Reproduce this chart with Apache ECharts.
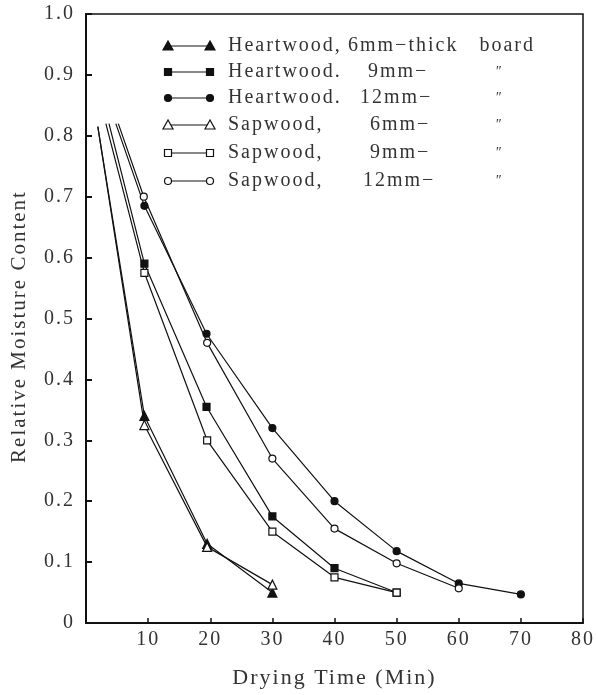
<!DOCTYPE html>
<html>
<head>
<meta charset="utf-8">
<script src="https://cdn.jsdelivr.net/npm/echarts@6/dist/echarts.min.js"></script>
<style>
html, body { margin: 0; padding: 0; background: #fff; }
#chart { width: 598px; height: 695px; }
</style>
</head>
<body>
<div id="chart"></div>
<script>
// drying time (min), relative moisture content; first point of each curve is the unmarked start
const heartwood6 = [[1.9, 0.815], [9.4, 0.34], [19.5, 0.13], [30, 0.05]];
const heartwood9 = [[3.7, 0.82], [9.4, 0.59], [19.4, 0.355], [30, 0.175], [40, 0.09], [50, 0.05]];
const heartwood12 = [[4.8, 0.82], [9.4, 0.685], [19.4, 0.475], [30, 0.32], [40, 0.2], [50, 0.118], [60, 0.065], [70, 0.047]];
const sapwood6 = [[1.9, 0.815], [9.4, 0.325], [19.5, 0.125], [30, 0.063]];
const sapwood9 = [[3.2, 0.82], [9.4, 0.575], [19.5, 0.3], [30, 0.15], [40, 0.075], [50, 0.05]];
const sapwood12 = [[5.2, 0.82], [9.3, 0.7], [19.5, 0.46], [30, 0.27], [40, 0.155], [50, 0.098], [60, 0.057]];

const seriesNames = ['Heartwood, 6mm', 'Heartwood, 9mm', 'Heartwood, 12mm', 'Sapwood, 6mm', 'Sapwood, 9mm', 'Sapwood, 12mm'];
const legendNames = ['Heartwood,', 'Heartwood.', 'Heartwood.', 'Sapwood,', 'Sapwood,', 'Sapwood,'];
const legendSizes = ['6mm\u2212thick   board', '9mm\u2212', '12mm\u2212', '6mm\u2212', '9mm\u2212', '12mm\u2212'];
const legendSizeX = [348, 368, 360, 370, 370, 363];
const xTicks = [10, 20, 30, 40, 50, 60, 70, 80];

// the scanned typeface is widely spaced: add letter spacing whenever a canvas font is set,
// so both zrender's text measuring and drawing see it
const fontProp = Object.getOwnPropertyDescriptor(CanvasRenderingContext2D.prototype, 'font');
Object.defineProperty(CanvasRenderingContext2D.prototype, 'font', {
  get() { return fontProp.get.call(this); },
  set(v) { fontProp.set.call(this, v); this.letterSpacing = '2px'; }
});

const font = "'Liberation Serif', 'DejaVu Serif', serif";
const ink = '#111';
const textInk = '#333';

const allData = [heartwood6, heartwood9, heartwood12, sapwood6, sapwood9, sapwood12];
const symbols = ['triangle', 'rect', 'circle', 'triangle', 'rect', 'circle'];
const filled = [true, true, true, false, false, false];
const symSize = { triangle: 9, rect: 7, circle: 7 };

const series = allData.map((d, i) => ({
  name: seriesNames[i],
  type: 'line',
  symbol: symbols[i],
  symbolSize: symSize[symbols[i]],
  showAllSymbol: true,
  z: filled[i] ? 2 : 3,
  lineStyle: { color: ink, width: 1.2 },
  itemStyle: { color: filled[i] ? ink : '#fff', borderColor: ink, borderWidth: 1.2 },
  emphasis: { disabled: true },
  data: d.map((p, j) => j === 0 ? { value: p, symbol: 'none' } : { value: p })
}));

// hand-drawn legend: marker, line, marker, then label pieces
const rowY = [46, 72, 98, 125, 153, 181];
const graphic = [];
rowY.forEach((y, i) => {
  const fill = filled[i] ? ink : '#fff';
  graphic.push({ type: 'line', shape: { x1: 168, y1: y, x2: 210, y2: y }, style: { stroke: ink, lineWidth: 1.2 } });
  [168, 210].forEach(cx => {
    let el;
    if (symbols[i] === 'triangle') {
      el = { type: 'polygon', shape: { points: [[cx, y - 5], [cx - 5, y + 4], [cx + 5, y + 4]] } };
    } else if (symbols[i] === 'rect') {
      el = { type: 'rect', shape: { x: cx - 3.5, y: y - 3.5, width: 7, height: 7 } };
    } else {
      el = { type: 'circle', shape: { cx: cx, cy: y, r: 3.5 } };
    }
    el.style = { fill: fill, stroke: ink, lineWidth: 1.2 };
    el.z = 10;
    graphic.push(el);
  });
  graphic.push({ type: 'text', x: 228, y: y, style: { text: legendNames[i], font: '20px ' + font, fill: textInk, verticalAlign: 'middle' } });
  graphic.push({ type: 'text', x: legendSizeX[i], y: y, style: { text: legendSizes[i], font: '20px ' + font, fill: textInk, verticalAlign: 'middle' } });
  if (i > 0) {
    graphic.push({ type: 'text', x: 495, y: y, style: { text: '\u2033', font: 'italic 14px ' + font, fill: textInk, verticalAlign: 'middle' } });
  }
});

const chart = echarts.init(document.getElementById('chart'));
chart.setOption({
  animation: false,
  backgroundColor: '#fff',
  grid: { left: 85, right: 15, top: 14, bottom: 67, show: true, borderColor: ink, borderWidth: 1.5 },
  xAxis: {
    type: 'value',
    min: 0,
    max: 80,
    interval: 10,
    name: 'Drying Time (Min)',
    nameLocation: 'middle',
    nameGap: 43,
    nameTextStyle: { fontFamily: font, fontSize: 22, color: textInk },
    axisLine: { lineStyle: { color: ink, width: 2 } },
    axisTick: { inside: true, length: 5, lineStyle: { color: ink, width: 1.5 } },
    axisLabel: {
      margin: 6,
      fontFamily: font,
      fontSize: 20,
      color: textInk,
      formatter: v => xTicks.indexOf(v) >= 0 ? String(v) : ''
    },
    splitLine: { show: false }
  },
  yAxis: {
    type: 'value',
    min: 0,
    max: 1,
    interval: 0.1,
    name: 'Relative Moisture Content',
    nameLocation: 'middle',
    nameGap: 55,
    nameTextStyle: { fontFamily: font, fontSize: 21, color: textInk, padding: [0, 16, 0, 0] },
    axisLine: { lineStyle: { color: ink, width: 2 } },
    axisTick: { inside: true, length: 6, lineStyle: { color: ink, width: 2 } },
    axisLabel: {
      margin: 11,
      fontFamily: font,
      fontSize: 20,
      color: textInk,
      formatter: v => v === 0 ? '0' : v.toFixed(1)
    },
    splitLine: { show: false }
  },
  graphic: graphic,
  series: series
});
</script>
</body>
</html>
